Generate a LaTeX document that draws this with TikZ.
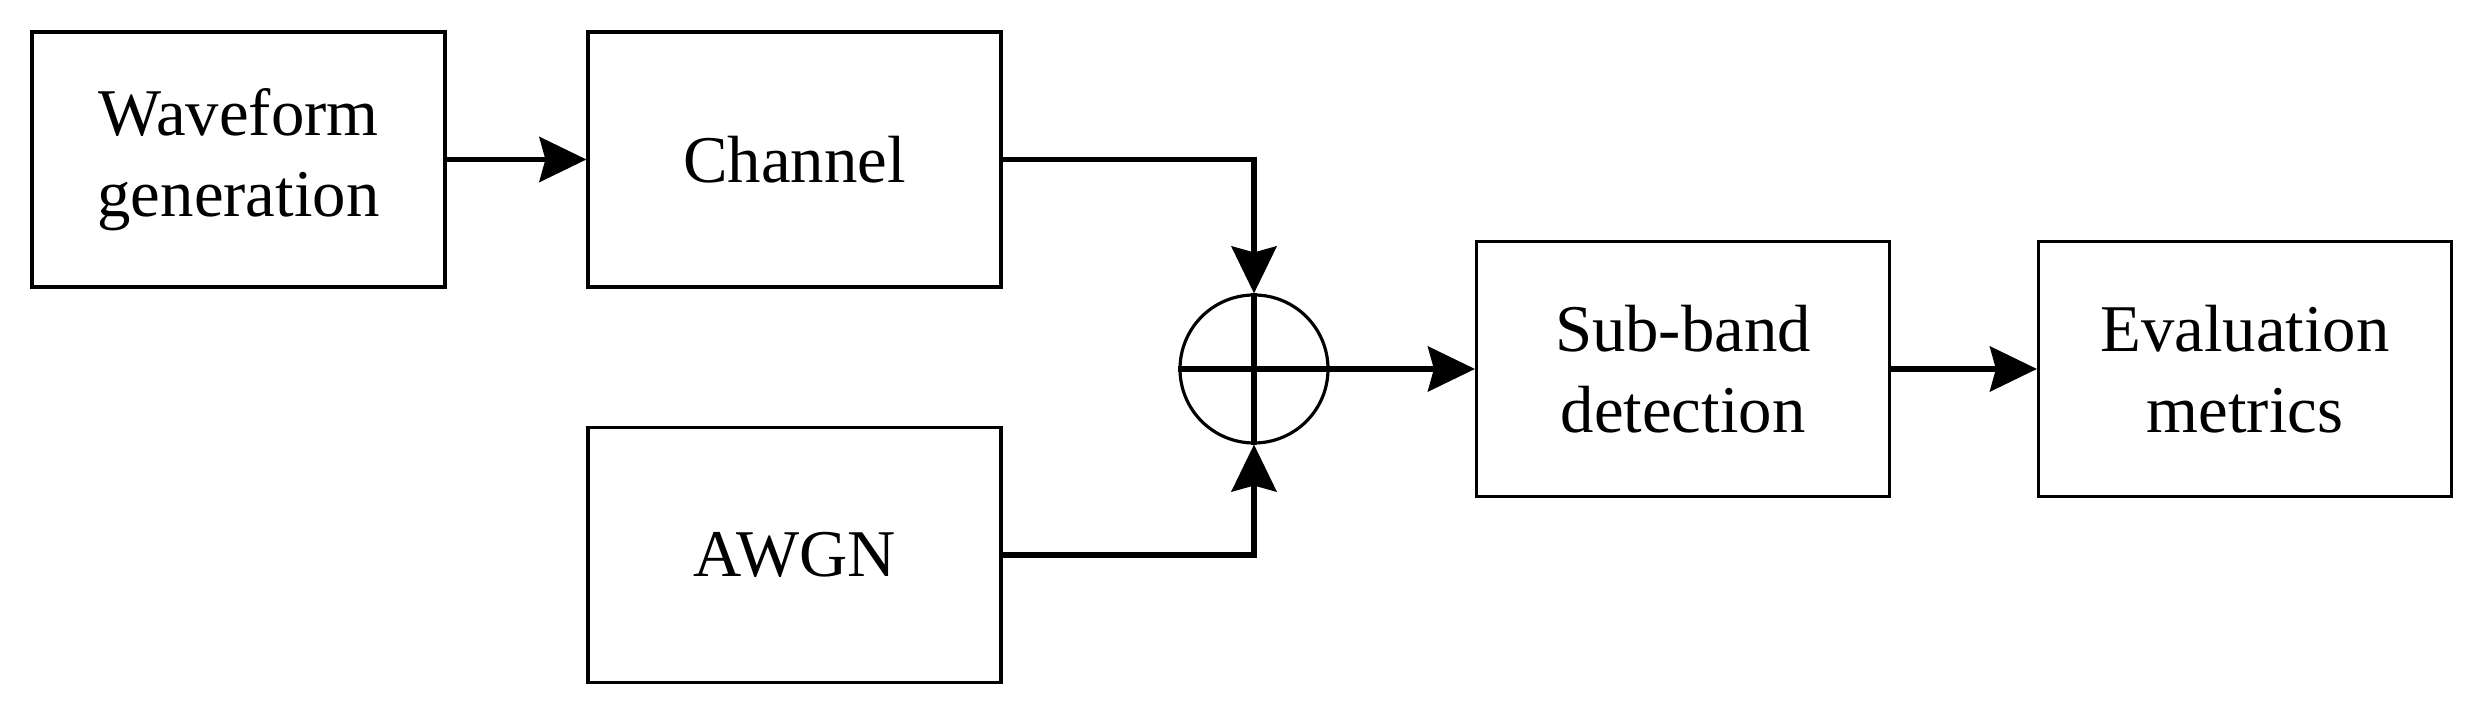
\documentclass[tikz,border=0pt]{standalone}
\usepackage{fontspec}
\setmainfont{Liberation Serif}
\usetikzlibrary{arrows.meta}
\tikzset{
	blockbox/.style={draw, line width=0.9pt, minimum width=4.13cm, minimum height=2.55cm, inner sep=0pt, align=center, font=\fontsize{19}{23}\selectfont},
	flow/.style={line width=1.5pt, -{Stealth[length=0.47cm, width=0.45cm, inset=0.06cm]}},
	thick line/.style={line width=1.5pt}
}

\begin{document}
\begin{tikzpicture}
		\useasboundingbox (0,0) rectangle (24.83,7.14);
		% blocks
		\node[blockbox] (wave) at (2.385,5.545) {Waveform\\generation};
		\node[blockbox] (chan) at (7.945,5.545) {Channel};
		\node[blockbox] (awgn) at (7.945,1.59) {AWGN};
		\node[draw, circle, line width=0.9pt, minimum size=1.48cm, inner sep=0pt] (sum) at (12.54,3.45) {};
		\node[blockbox] (sub) at (16.83,3.45) {Sub-band\\detection};
		\node[blockbox] (eval) at (22.45,3.45) {Evaluation\\metrics};
		% adder cross
		\draw[thick line] (sum.north) -- (sum.south);
		\draw[thick line] (sum.west) -- (sum.east);
		% connectors
		\draw[flow] (wave.east) -- (chan.west);
		\draw[flow] (chan.east) -| (sum.north);
		\draw[flow] (awgn.east) -| (sum.south);
		\draw[flow] (sum.east) -- (sub.west);
		\draw[flow] (sub.east) -- (eval.west);
\end{tikzpicture}
\end{document}
